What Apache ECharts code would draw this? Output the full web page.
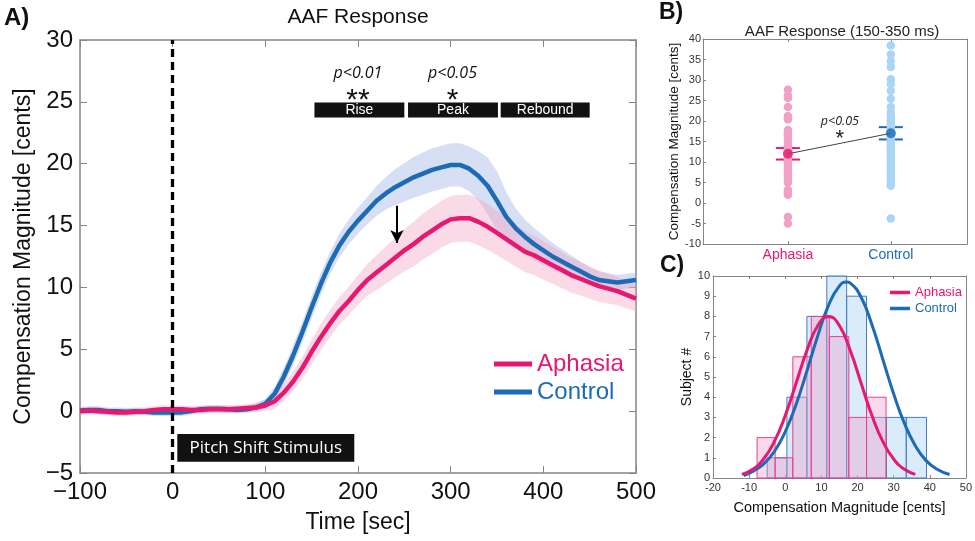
<!DOCTYPE html>
<html><head><meta charset="utf-8">
<script src="https://cdn.jsdelivr.net/npm/echarts@6/dist/echarts.min.js"></script>
<style>html,body{margin:0;padding:0;background:#fff}#c{width:975px;height:541px}</style>
</head><body><div id="c"></div>
<script>
// ---------- Panel A: time courses ----------
const timeMs = [-100,-90,-80,-70,-60,-50,-40,-30,-20,-10,0,10,20,30,40,50,60,70,80,90,100,110,120,130,140,150,160,170,180,190,200,210,220,230,240,250,260,270,280,290,300,310,320,330,340,350,360,370,380,390,400,410,420,430,440,450,460,470,480,490,500];
const aphasiaMean = [0.00,0.05,0.00,-0.05,-0.10,-0.10,-0.05,0.00,0.10,0.15,0.15,0.15,0.10,0.10,0.15,0.15,0.15,0.20,0.25,0.30,0.45,0.80,1.50,2.40,3.50,4.80,6.00,7.10,8.10,8.90,9.80,10.6,11.2,11.8,12.4,13.0,13.5,14.1,14.6,15.1,15.5,15.6,15.6,15.3,14.9,14.4,13.9,13.4,12.9,12.6,12.2,11.8,11.4,11.0,10.7,10.4,10.1,9.9,9.7,9.4,9.1];
const aphasiaCI = [0.3,0.3,0.3,0.3,0.3,0.3,0.3,0.3,0.3,0.3,0.3,0.3,0.3,0.3,0.3,0.3,0.3,0.3,0.3,0.35,0.45,0.6,0.7,0.8,0.9,1.0,1.05,1.1,1.1,1.15,1.2,1.3,1.4,1.5,1.6,1.7,1.8,1.85,1.9,1.9,1.9,1.9,1.9,1.9,1.85,1.8,1.75,1.7,1.65,1.6,1.55,1.5,1.45,1.4,1.35,1.3,1.25,1.2,1.15,1.1,1.05];
const controlMean = [0.05,0.10,0.10,0.00,0.00,-0.05,0.00,-0.05,-0.10,-0.10,-0.10,-0.10,0.00,0.15,0.20,0.20,0.15,0.10,0.15,0.30,0.60,1.40,2.80,4.50,6.40,8.40,10.3,12.0,13.4,14.5,15.4,16.2,17.0,17.6,18.1,18.5,18.9,19.2,19.5,19.7,19.9,19.9,19.6,19.0,18.2,17.0,15.7,14.8,14.1,13.5,13.0,12.5,12.1,11.7,11.3,10.9,10.6,10.5,10.4,10.5,10.6];
const controlCI = [0.3,0.3,0.3,0.3,0.3,0.3,0.3,0.3,0.3,0.3,0.3,0.3,0.3,0.3,0.3,0.3,0.3,0.3,0.3,0.35,0.4,0.55,0.7,0.8,0.85,0.9,0.9,0.9,0.95,1.0,1.05,1.1,1.2,1.3,1.45,1.55,1.65,1.7,1.75,1.75,1.75,1.75,1.8,2.0,2.3,2.4,2.0,1.6,1.4,1.3,1.2,1.1,1.0,0.9,0.8,0.75,0.7,0.65,0.6,0.6,0.6];
const groups = ['Aphasia','Control'];
const stimulusLabel = 'Pitch Shift Stimulus';
const stimulusBox = [5, 196, -1.85, -4.1];        // t0, t1, yTop, yBottom (data units)
const phases = ['Rise','Peak','Rebound'];
const phaseStart = [153, 254, 354];
const phaseEnd = [250, 351, 450];
const phaseBoxY = [24.95, 23.74];
const pTexts = ['p<0.01','p<0.05'];
const pTextT = [200, 302];
const stars = ['**','*'];
const arrowT = 242, arrowFrom = 16.6, arrowTo = 13.6;

// ---------- Panel B: individual scores ----------
const aphasiaScores = [27.6,26.2,25.6,23.4,21.2,20.4,17.8,17.0,16.6,16.0,15.0,14.0,13.2,12.6,12.0,11.2,10.8,10.4,9.8,9.0,8.4,7.6,7.0,6.4,5.6,5.0,3.2,2.6,2.0,-3.4,-5.0];
const controlScores = [38.4,36.2,34.6,33.2,30.2,29.0,27.4,25.4,23.4,22.2,21.4,20.6,20.0,19.4,18.8,18.2,17.6,17.2,16.6,16.0,15.4,14.8,14.2,13.6,13.0,12.6,12.2,11.8,11.0,10.4,9.8,9.0,8.4,7.6,7.0,6.4,5.6,5.0,4.6,4.2,-3.8];
const groupMean = [12.0, 17.0];
const groupErrLo = [10.6, 15.5];
const groupErrHi = [13.4, 18.5];

// ---------- Panel C: histograms + fitted curves ----------
const aphasiaBinEdges = [-7.8,-2.8,2.1,7.2,12.2,17.6,22.5,27.9];
const aphasiaCounts = [2,1,6,8,7,3,4];
const controlBinEdges = [-5.0,0.45,6.0,11.5,17.0,22.5,28.0,33.5,39.1];
const controlCounts = [1,4,8,10,9,3,3,3];
const aphasiaFitX = [-12,-9,-6,-3,0,3,6,9,12,15,18,21,24,27,30,33,36];
const aphasiaFitY = [0.18,0.43,0.94,1.81,3.09,4.69,6.31,7.54,8.0,7.54,6.31,4.69,3.09,1.81,0.94,0.43,0.18];
const controlFitX = [-11.5,-9,-6,-3,0,3,6,9,12,15,17,18,21,24,27,30,33,36,39,42,45.5];
const controlFitY = [0.12,0.33,0.69,1.31,2.29,3.64,5.30,7.04,8.56,9.51,9.7,9.65,8.95,7.59,5.88,4.17,2.70,1.60,0.86,0.43,0.17];

const pink = '#E6186F', blue = '#1C6BB4';
const pinkBand = 'rgba(244,158,192,0.38)', blueBand = 'rgba(150,170,226,0.38)';
const pinkDot = '#F2A0C6', blueDot = '#AAD5F3';
const FONT = 'Liberation Sans, Arial, sans-serif';
const axisGray = '#858585';

function bandSeries(name, mean, ci, color) {
  return {
    type: 'custom', name: name + ' band', xAxisIndex: 0, yAxisIndex: 0, silent: true, clip: true,
    data: timeMs.map((t, i) => [t, mean[i] - ci[i], mean[i] + ci[i]]),
    encode: { x: 0, y: [1, 2] },
    renderItem(params, api) {
      if (params.dataIndex !== 0) return null;
      const pts = [];
      for (let i = 0; i < timeMs.length; i++) pts.push(api.coord([timeMs[i], mean[i] + ci[i]]));
      for (let i = timeMs.length - 1; i >= 0; i--) pts.push(api.coord([timeMs[i], mean[i] - ci[i]]));
      return { type: 'polygon', shape: { points: pts }, style: { fill: color } };
    }
  };
}
function histSeries(name, edges, counts, fill, stroke) {
  return {
    type: 'custom', name: name + ' hist', xAxisIndex: 4, yAxisIndex: 4, silent: true,
    data: counts.map((c, i) => [edges[i], edges[i + 1], c]),
    encode: { x: [0, 1], y: 2 },
    renderItem(params, api) {
      const p0 = api.coord([api.value(0), api.value(2)]);
      const p1 = api.coord([api.value(1), 0]);
      return { type: 'rect', shape: { x: p0[0], y: p0[1], width: p1[0] - p0[0], height: p1[1] - p0[1] },
               style: { fill: fill, stroke: stroke, lineWidth: 1 } };
    }
  };
}
const minusFmt = v => (v < 0 ? '\u2212' + Math.abs(v) : String(v));
function line(w) { return { onZero: false, lineStyle: { color: axisGray, width: w || 1 } }; }

const option = {
  animation: false,
  textStyle: { fontFamily: FONT },
  title: [
    { text: 'AAF Response', left: 358, top: 7, padding: 0, textAlign: 'center', textStyle: { fontSize: 21, fontWeight: 'normal', color: '#111', fontFamily: FONT } },
    { text: 'AAF Response (150-350 ms)', left: 842, top: 24, padding: 0, textAlign: 'center', textStyle: { fontSize: 15, fontWeight: 'normal', color: '#222', fontFamily: FONT } },
    { text: 'A)', left: 4, top: 6, padding: 0, textStyle: { fontSize: 24, fontWeight: 'bold', color: '#111', fontFamily: FONT } },
    { text: 'B)', left: 659, top: 1, padding: 0, textStyle: { fontSize: 23, fontWeight: 'bold', color: '#111', fontFamily: FONT } },
    { text: 'C)', left: 660, top: 254, padding: 0, textStyle: { fontSize: 23, fontWeight: 'bold', color: '#111', fontFamily: FONT } }
  ],
  legend: [
    { orient: 'vertical', left: 494, top: 352, padding: 0, itemGap: 4, itemWidth: 38, itemHeight: 5, icon: 'rect',
      selectedMode: false, textStyle: { fontSize: 24, fontFamily: FONT },
      data: [ { name: groups[0], textStyle: { color: pink }, itemStyle: { color: pink } },
              { name: groups[1], textStyle: { color: blue }, itemStyle: { color: blue } } ] },
    { orient: 'vertical', left: 890, top: 286, padding: 0, itemGap: 3, itemWidth: 20, itemHeight: 3.5, icon: 'rect',
      selectedMode: false, textStyle: { fontSize: 13, fontFamily: FONT },
      data: [ { name: groups[0], textStyle: { color: pink }, itemStyle: { color: pink } },
              { name: groups[1], textStyle: { color: blue }, itemStyle: { color: blue } } ] }
  ],
  grid: [
    { left: 80, top: 40, width: 556, height: 433 },
    { left: 703, top: 39, width: 264, height: 205 },
    { left: 713, top: 276, width: 254, height: 202 }
  ],
  xAxis: [
    { gridIndex: 0, type: 'value', min: -100, max: 500, interval: 100, position: 'bottom',
      name: 'Time [sec]', nameLocation: 'middle', nameGap: 38, nameTextStyle: { fontSize: 23, color: '#111' },
      axisLine: line(1.5), axisTick: { inside: true, length: 7, lineStyle: { color: axisGray } },
      axisLabel: { fontSize: 24, color: '#111', margin: 7, formatter: minusFmt }, splitLine: { show: false } },
    { gridIndex: 0, type: 'value', min: -100, max: 500, interval: 100, position: 'top',
      axisLine: line(1.5), axisTick: { inside: true, length: 7, lineStyle: { color: axisGray } },
      axisLabel: { show: false }, splitLine: { show: false } },
    { gridIndex: 1, type: 'value', min: 0.175, max: 2.74, position: 'bottom',
      axisLine: line(1),
      axisTick: { inside: true, length: 3, customValues: [1, 2], lineStyle: { color: axisGray } },
      axisLabel: { customValues: [1, 2], margin: 4, formatter: v => (Math.round(v) === 1 ? '{a|' + groups[0] + '}' : '{b|' + groups[1] + '}'),
        rich: { a: { color: pink, fontSize: 14, fontFamily: FONT }, b: { color: blue, fontSize: 14, fontFamily: FONT } } },
      splitLine: { show: false } },
    { gridIndex: 1, type: 'value', min: 0.175, max: 2.74, position: 'top',
      axisLine: line(1),
      axisTick: { inside: true, length: 3, customValues: [1, 2], lineStyle: { color: axisGray } },
      axisLabel: { show: false }, splitLine: { show: false } },
    { gridIndex: 2, type: 'value', min: -20, max: 50, interval: 10, position: 'bottom',
      name: 'Compensation Magnitude [cents]', nameLocation: 'middle', nameGap: 22, nameTextStyle: { fontSize: 14.5, color: '#111' },
      axisLine: line(1), axisTick: { inside: true, length: 3, lineStyle: { color: axisGray } },
      axisLabel: { fontSize: 11, color: '#333', margin: 4 }, splitLine: { show: false } },
    { gridIndex: 2, type: 'value', min: -20, max: 50, interval: 10, position: 'top',
      axisLine: line(1), axisTick: { inside: true, length: 3, lineStyle: { color: axisGray } },
      axisLabel: { show: false }, splitLine: { show: false } }
  ],
  yAxis: [
    { gridIndex: 0, type: 'value', min: -5, max: 30, interval: 5, position: 'left',
      name: 'Compensation Magnitude [cents]', nameLocation: 'middle', nameGap: 41, nameTextStyle: { fontSize: 23, color: '#111' },
      axisLine: line(1.5), axisTick: { inside: true, length: 7, lineStyle: { color: axisGray } },
      axisLabel: { fontSize: 24, color: '#111', margin: 7, formatter: minusFmt }, splitLine: { show: false } },
    { gridIndex: 0, type: 'value', min: -5, max: 30, interval: 5, position: 'right',
      axisLine: line(1.5), axisTick: { inside: true, length: 7, lineStyle: { color: axisGray } },
      axisLabel: { show: false }, splitLine: { show: false } },
    { gridIndex: 1, type: 'value', min: -10, max: 40, interval: 5, position: 'left',
      name: 'Compensation Magnitude [cents]', nameLocation: 'middle', nameGap: 18, nameTextStyle: { fontSize: 13.5, color: '#111' },
      axisLine: line(1), axisTick: { inside: true, length: 3, lineStyle: { color: axisGray } },
      axisLabel: { fontSize: 11, color: '#333', margin: 2 }, splitLine: { show: false } },
    { gridIndex: 1, type: 'value', min: -10, max: 40, interval: 5, position: 'right',
      axisLine: line(1), axisTick: { show: false },
      axisLabel: { show: false }, splitLine: { show: false } },
    { gridIndex: 2, type: 'value', min: 0, max: 10, interval: 1, position: 'left',
      name: 'Subject #', nameLocation: 'middle', nameGap: 19, nameTextStyle: { fontSize: 14, color: '#111' },
      axisLine: line(1), axisTick: { inside: true, length: 3, lineStyle: { color: axisGray } },
      axisLabel: { fontSize: 11, color: '#333', margin: 3 }, splitLine: { show: false } },
    { gridIndex: 2, type: 'value', min: 0, max: 10, interval: 1, position: 'right',
      axisLine: line(1), axisTick: { show: false },
      axisLabel: { show: false }, splitLine: { show: false } }
  ],
  series: [
    // ----- Panel A -----
    bandSeries(groups[1], controlMean, controlCI, blueBand),
    { type: 'line', name: groups[1], xAxisIndex: 0, yAxisIndex: 0, data: timeMs.map((t, i) => [t, controlMean[i]]),
      showSymbol: false, lineStyle: { color: blue, width: 4.5 }, itemStyle: { color: blue }, z: 3,
      markLine: { silent: true, symbol: ['none', 'none'], label: { show: false },
        lineStyle: { color: '#000', width: 3.3, type: [8, 5] }, data: [{ xAxis: 0 }] } },
    bandSeries(groups[0], aphasiaMean, aphasiaCI, pinkBand),
    { type: 'line', name: groups[0], xAxisIndex: 0, yAxisIndex: 0, data: timeMs.map((t, i) => [t, aphasiaMean[i]]),
      showSymbol: false, lineStyle: { color: pink, width: 4.5 }, itemStyle: { color: pink }, z: 4,
      markArea: { silent: true, itemStyle: { color: '#111', opacity: 1 },
        label: { show: true, position: 'inside', color: '#fff', fontSize: 14, fontFamily: FONT },
        data: [
          [ { name: stimulusLabel, coord: [stimulusBox[0], stimulusBox[2]], label: { fontSize: 17, fontFamily: 'Open Sans, sans-serif' } },
            { coord: [stimulusBox[1], stimulusBox[3]] } ]
        ].concat(phases.map((p, i) => [ { name: p, coord: [phaseStart[i], phaseBoxY[0]] }, { coord: [phaseEnd[i], phaseBoxY[1]] } ])) },
      markPoint: { silent: true, symbol: 'circle', symbolSize: 1, itemStyle: { color: 'rgba(0,0,0,0)' },
        data: pTexts.map((p, i) => ({ name: p, coord: [pTextT[i], 27.3],
                  label: { show: true, position: 'inside', formatter: p, fontSize: 16, fontStyle: 'italic', color: '#111', fontFamily: 'Open Sans, sans-serif' } }))
          .concat(stars.map((s, i) => ({ name: s, coord: [pTextT[i], 25.1],
                  label: { show: true, position: 'inside', formatter: s, fontSize: 30, color: '#111', fontFamily: FONT } }))) },
      markLine: { silent: true, symbol: ['none', 'arrow'], symbolSize: [10, 13], label: { show: false },
        lineStyle: { color: '#000', width: 2, type: 'solid' },
        data: [[ { coord: [arrowT, arrowFrom] }, { coord: [arrowT, arrowTo] } ]] } },

    // ----- Panel B -----
    { type: 'scatter', name: 'Aphasia subjects', xAxisIndex: 2, yAxisIndex: 2, symbolSize: 8.5,
      itemStyle: { color: pinkDot, opacity: 1 }, data: aphasiaScores.map(v => [1, v]) },
    { type: 'scatter', name: 'Control subjects', xAxisIndex: 2, yAxisIndex: 2, symbolSize: 8.5,
      itemStyle: { color: blueDot, opacity: 1 }, data: controlScores.map(v => [2, v]) },
    { type: 'line', name: 'group means link', xAxisIndex: 2, yAxisIndex: 2, showSymbol: false,
      lineStyle: { color: '#444', width: 1 }, data: groupMean.map((m, i) => [i + 1, m]),
      markPoint: { silent: true, symbol: 'circle', symbolSize: 1, itemStyle: { color: 'rgba(0,0,0,0)' },
        data: [ { name: 'p<0.05', coord: [1.505, 19.9], label: { show: true, position: 'inside', formatter: 'p<0.05', fontSize: 12.5, fontStyle: 'italic', color: '#222', fontFamily: 'Open Sans, sans-serif' } },
                { name: '*', coord: [1.505, 15.6], label: { show: true, position: 'inside', formatter: '*', fontSize: 22, color: '#222', fontFamily: FONT } } ] } },
    { type: 'custom', name: 'error bars', xAxisIndex: 2, yAxisIndex: 2, silent: true,
      data: groupMean.map((m, i) => [i + 1, groupErrLo[i], groupErrHi[i]]),
      encode: { x: 0, y: [1, 2] },
      renderItem(params, api) {
        const col = params.dataIndex === 0 ? pink : blue;
        const lo = api.coord([api.value(0), api.value(1)]);
        const hi = api.coord([api.value(0), api.value(2)]);
        const hw = 12;
        const st = { stroke: col, lineWidth: 2 };
        return { type: 'group', children: [
          { type: 'line', shape: { x1: lo[0], y1: lo[1], x2: hi[0], y2: hi[1] }, style: st },
          { type: 'line', shape: { x1: lo[0] - hw, y1: lo[1], x2: lo[0] + hw, y2: lo[1] }, style: st },
          { type: 'line', shape: { x1: hi[0] - hw, y1: hi[1], x2: hi[0] + hw, y2: hi[1] }, style: st } ] };
      } },
    { type: 'scatter', name: 'group means', xAxisIndex: 2, yAxisIndex: 2, symbolSize: 10, z: 5,
      data: groupMean.map((m, i) => ({ value: [i + 1, m], itemStyle: { color: i === 0 ? pink : blue } })) },

    // ----- Panel C -----
    histSeries(groups[1], controlBinEdges, controlCounts, 'rgba(172,212,242,0.45)', '#3F7FC2'),
    histSeries(groups[0], aphasiaBinEdges, aphasiaCounts, 'rgba(238,160,205,0.4)', '#E2448A'),
    { type: 'line', name: groups[1], xAxisIndex: 4, yAxisIndex: 4, smooth: true, showSymbol: false,
      lineStyle: { color: blue, width: 3 }, itemStyle: { color: blue }, data: controlFitX.map((x, i) => [x, controlFitY[i]]) },
    { type: 'line', name: groups[0], xAxisIndex: 4, yAxisIndex: 4, smooth: true, showSymbol: false,
      lineStyle: { color: pink, width: 3 }, itemStyle: { color: pink }, data: aphasiaFitX.map((x, i) => [x, aphasiaFitY[i]]) }
  ]
};
const chart = echarts.init(document.getElementById('c'), null, { renderer: 'canvas' });
chart.setOption(option);
</script></body></html>
